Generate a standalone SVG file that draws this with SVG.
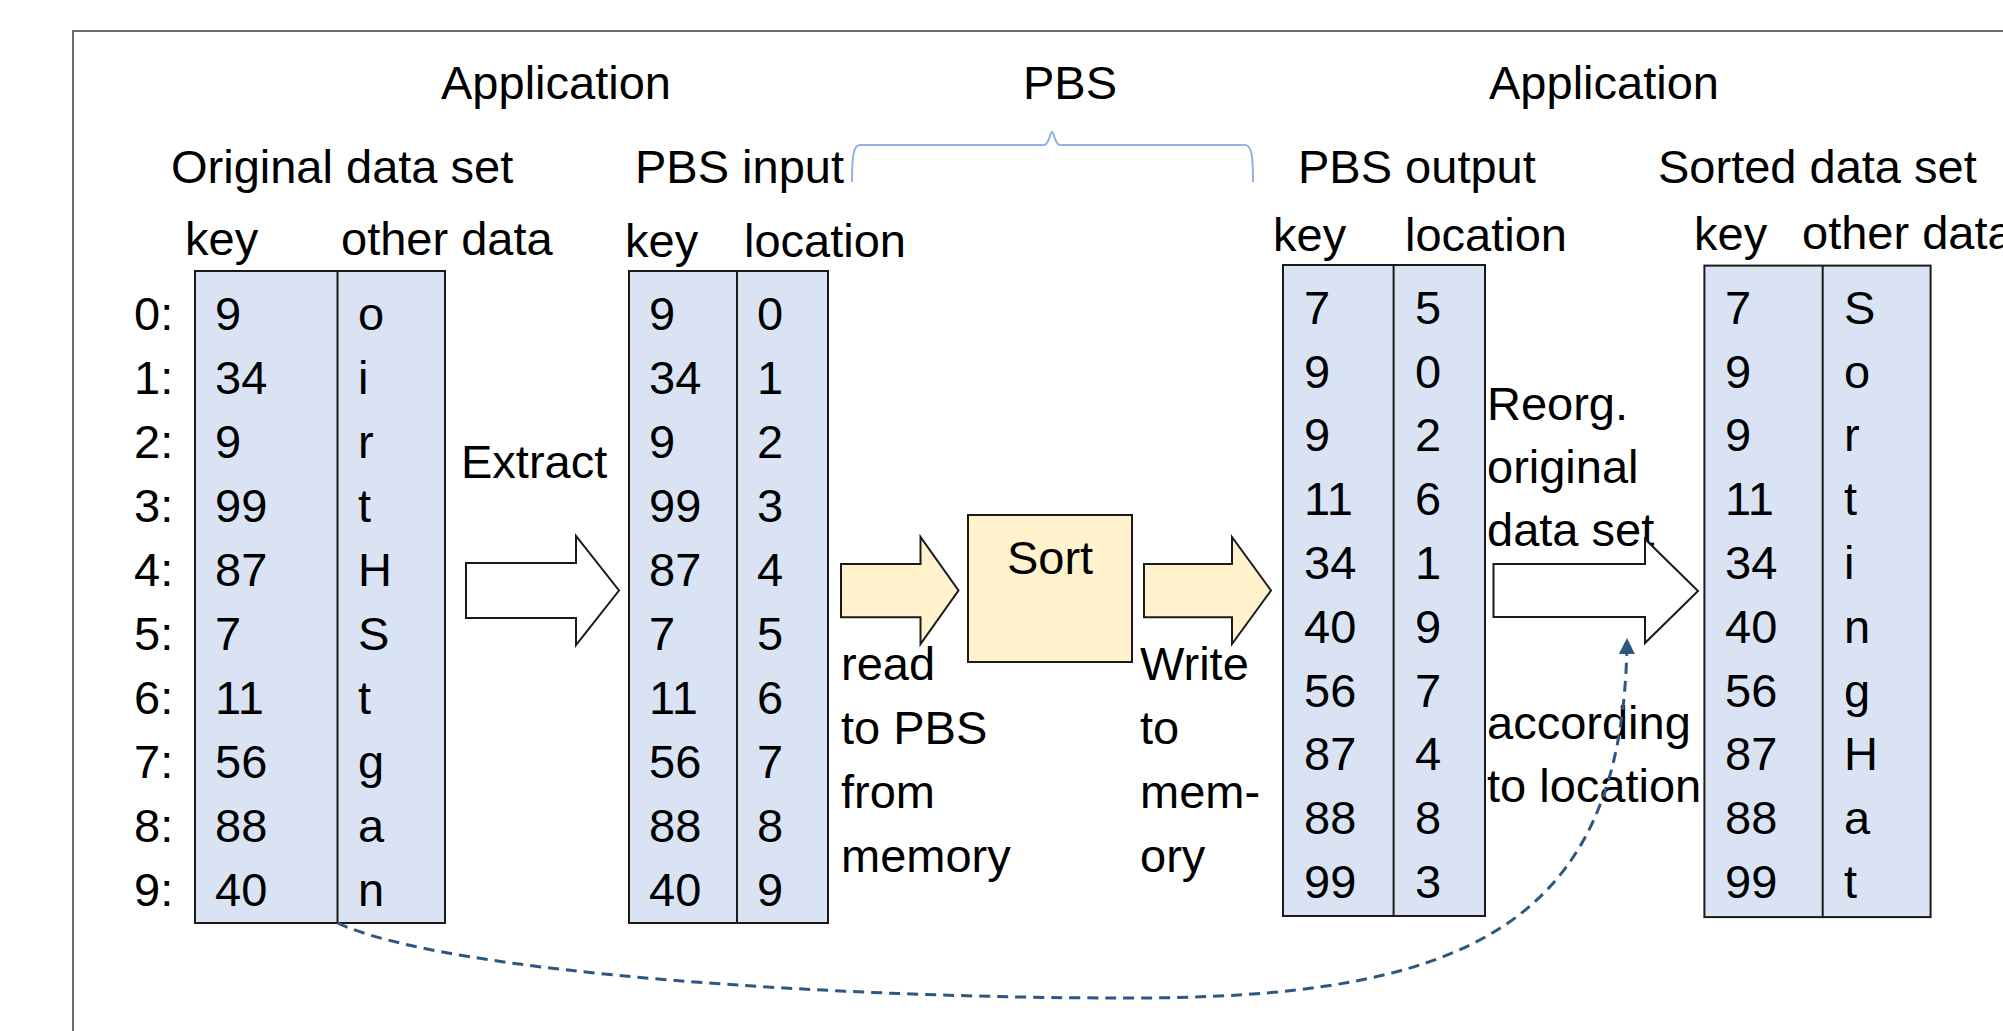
<svg xmlns="http://www.w3.org/2000/svg" width="2003" height="1031" viewBox="0 0 2003 1031">
<style>
.t{font-family:"Liberation Sans",Arial,sans-serif;font-size:47px;fill:#000}
.tbl{fill:#dae3f3;stroke:#1a1a1a;stroke-width:2}
.div{stroke:#1a1a1a;stroke-width:2}
.wa{fill:#ffffff;stroke:#1a1a1a;stroke-width:2;stroke-linejoin:miter}
.ya{fill:#fff2cc;stroke:#1a1a1a;stroke-width:2;stroke-linejoin:miter}
.dash{fill:none;stroke:#2c5783;stroke-width:3;stroke-dasharray:11 7}
</style>
<defs>
<marker id="ah" viewBox="0 0 16 16" refX="16" refY="8" markerWidth="16" markerHeight="16" markerUnits="userSpaceOnUse" orient="auto">
<path d="M0,0 L16,8 L0,16 z" fill="#2c5783"/>
</marker>
</defs>
<rect width="2003" height="1031" fill="#ffffff"/>
<rect id="frame" x="73" y="31" width="2100" height="1100" fill="none" stroke="#6b6b6b" stroke-width="2"/>

<g id="headers">
<text class="t" x="441" y="99">Application</text>
<text class="t" x="1023" y="99">PBS</text>
<text class="t" x="1489" y="99">Application</text>
<path id="pbs-brace" d="M852,182 C852,158 853,145 860,145 L1044,145 C1049,145 1050,132 1052,132 C1054,132 1055,145 1060,145 L1245,145 C1252,145 1253,158 1253,182" fill="none" stroke="#8fb4e3" stroke-width="2"/>
<text class="t" x="171" y="183">Original data set</text>
<text class="t" x="635" y="183">PBS input</text>
<text class="t" x="1298" y="183">PBS output</text>
<text class="t" x="1658" y="183">Sorted data set</text>
<text class="t" x="185" y="255">key</text>
<text class="t" x="341" y="255">other data</text>
<text class="t" x="625" y="257">key</text>
<text class="t" x="744" y="257">location</text>
<text class="t" x="1273" y="251">key</text>
<text class="t" x="1405" y="251">location</text>
<text class="t" x="1694" y="250">key</text>
<text class="t" x="1802" y="249">other data</text>
</g>

<g id="labels">
<text class="t" x="461" y="478">Extract</text>
<text class="t" x="841" y="680">read</text>
<text class="t" x="841" y="744">to PBS</text>
<text class="t" x="841" y="808">from</text>
<text class="t" x="841" y="872">memory</text>
<text class="t" x="1140" y="680">Write</text>
<text class="t" x="1140" y="744">to</text>
<text class="t" x="1140" y="808">mem-</text>
<text class="t" x="1140" y="872">ory</text>
<text class="t" x="1487" y="420">Reorg.</text>
<text class="t" x="1487" y="483">original</text>
<text class="t" x="1487" y="546">data set</text>
<text class="t" x="1487" y="739">according</text>
<text class="t" x="1487" y="802">to location</text>
</g>

<g id="row-index">
<text class="t" x="134" y="330">0:</text>
<text class="t" x="134" y="394">1:</text>
<text class="t" x="134" y="458">2:</text>
<text class="t" x="134" y="522">3:</text>
<text class="t" x="134" y="586">4:</text>
<text class="t" x="134" y="650">5:</text>
<text class="t" x="134" y="714">6:</text>
<text class="t" x="134" y="778">7:</text>
<text class="t" x="134" y="842">8:</text>
<text class="t" x="134" y="906">9:</text>
</g>

<g id="original-data-set">
<rect class="tbl" x="195" y="271" width="250" height="652"/>
<line class="div" x1="337.5" y1="271" x2="337.5" y2="923"/>
<text class="t" x="215" y="330">9</text><text class="t" x="358" y="330">o</text>
<text class="t" x="215" y="394">34</text><text class="t" x="358" y="394">i</text>
<text class="t" x="215" y="458">9</text><text class="t" x="358" y="458">r</text>
<text class="t" x="215" y="522">99</text><text class="t" x="358" y="522">t</text>
<text class="t" x="215" y="586">87</text><text class="t" x="358" y="586">H</text>
<text class="t" x="215" y="650">7</text><text class="t" x="358" y="650">S</text>
<text class="t" x="215" y="714">11</text><text class="t" x="358" y="714">t</text>
<text class="t" x="215" y="778">56</text><text class="t" x="358" y="778">g</text>
<text class="t" x="215" y="842">88</text><text class="t" x="358" y="842">a</text>
<text class="t" x="215" y="906">40</text><text class="t" x="358" y="906">n</text>
</g>

<g id="pbs-input">
<rect class="tbl" x="629" y="271" width="199" height="652"/>
<line class="div" x1="737" y1="271" x2="737" y2="923"/>
<text class="t" x="649" y="330">9</text><text class="t" x="757" y="330">0</text>
<text class="t" x="649" y="394">34</text><text class="t" x="757" y="394">1</text>
<text class="t" x="649" y="458">9</text><text class="t" x="757" y="458">2</text>
<text class="t" x="649" y="522">99</text><text class="t" x="757" y="522">3</text>
<text class="t" x="649" y="586">87</text><text class="t" x="757" y="586">4</text>
<text class="t" x="649" y="650">7</text><text class="t" x="757" y="650">5</text>
<text class="t" x="649" y="714">11</text><text class="t" x="757" y="714">6</text>
<text class="t" x="649" y="778">56</text><text class="t" x="757" y="778">7</text>
<text class="t" x="649" y="842">88</text><text class="t" x="757" y="842">8</text>
<text class="t" x="649" y="906">40</text><text class="t" x="757" y="906">9</text>
</g>

<g id="pbs-output">
<rect class="tbl" x="1283" y="265" width="202" height="651"/>
<line class="div" x1="1393.6" y1="265" x2="1393.6" y2="916"/>
<text class="t" x="1304" y="324">7</text><text class="t" x="1415" y="324">5</text>
<text class="t" x="1304" y="388">9</text><text class="t" x="1415" y="388">0</text>
<text class="t" x="1304" y="451">9</text><text class="t" x="1415" y="451">2</text>
<text class="t" x="1304" y="515">11</text><text class="t" x="1415" y="515">6</text>
<text class="t" x="1304" y="579">34</text><text class="t" x="1415" y="579">1</text>
<text class="t" x="1304" y="643">40</text><text class="t" x="1415" y="643">9</text>
<text class="t" x="1304" y="707">56</text><text class="t" x="1415" y="707">7</text>
<text class="t" x="1304" y="770">87</text><text class="t" x="1415" y="770">4</text>
<text class="t" x="1304" y="834">88</text><text class="t" x="1415" y="834">8</text>
<text class="t" x="1304" y="898">99</text><text class="t" x="1415" y="898">3</text>
</g>

<g id="sorted-data-set">
<rect class="tbl" x="1704.4" y="265.6" width="226.2" height="651.5"/>
<line class="div" x1="1822.7" y1="265.6" x2="1822.7" y2="917.1"/>
<text class="t" x="1725" y="324">7</text><text class="t" x="1844" y="324">S</text>
<text class="t" x="1725" y="388">9</text><text class="t" x="1844" y="388">o</text>
<text class="t" x="1725" y="451">9</text><text class="t" x="1844" y="451">r</text>
<text class="t" x="1725" y="515">11</text><text class="t" x="1844" y="515">t</text>
<text class="t" x="1725" y="579">34</text><text class="t" x="1844" y="579">i</text>
<text class="t" x="1725" y="643">40</text><text class="t" x="1844" y="643">n</text>
<text class="t" x="1725" y="707">56</text><text class="t" x="1844" y="707">g</text>
<text class="t" x="1725" y="770">87</text><text class="t" x="1844" y="770">H</text>
<text class="t" x="1725" y="834">88</text><text class="t" x="1844" y="834">a</text>
<text class="t" x="1725" y="898">99</text><text class="t" x="1844" y="898">t</text>
</g>

<g id="sort">
<rect x="968" y="515" width="164" height="147" fill="#fff2cc" stroke="#1a1a1a" stroke-width="2"/>
<text class="t" x="1050" y="574" text-anchor="middle">Sort</text>
</g>

<g id="connectors">
<polygon id="extract-arrow" class="wa" points="466,563 576,563 576,536 619,590.5 576,645 576,618 466,618"/>
<polygon id="read-arrow" class="ya" points="841,564 920.5,564 920.5,537 958.5,590.5 920.5,644 920.5,617.3 841,617.3"/>
<polygon id="write-arrow" class="ya" points="1144,564 1232,564 1232,537 1271,590.5 1232,644 1232,617.3 1144,617.3"/>
<polygon id="reorg-arrow" class="wa" points="1493.5,564 1645,564 1645,539 1698,591 1645,643 1645,617 1493.5,617"/>
<path id="location-link" class="dash" d="M337.5,923 C450,975 850,998 1123,998 C1460,999 1625,930 1627,638" marker-end="url(#ah)"/>
</g>
</svg>
